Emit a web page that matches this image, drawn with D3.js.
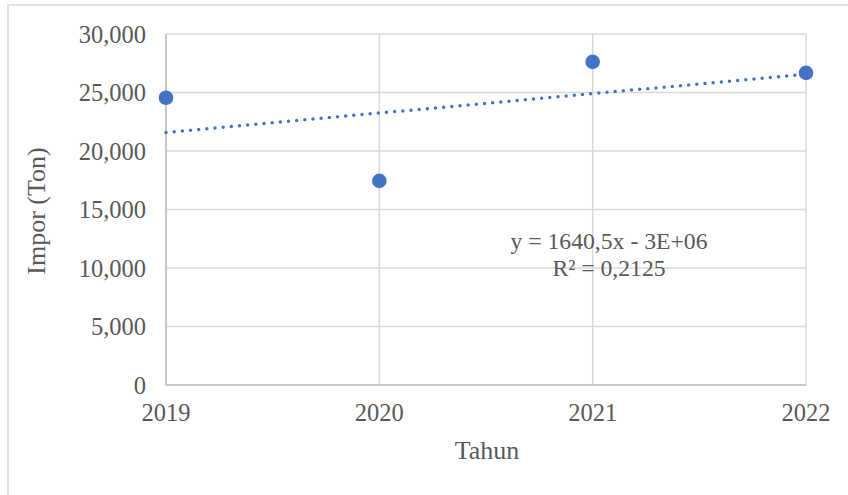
<!DOCTYPE html>
<html><head><meta charset="utf-8">
<script src="https://cdn.jsdelivr.net/npm/d3@7"></script>
<style>body{margin:0;background:#fff}svg{display:block}text{font-family:"Liberation Serif","Times New Roman",serif;fill:#595959}</style>
</head><body>
<svg id="c" width="848" height="495"></svg>
<script>
const years = [2019, 2020, 2021, 2022];
const impor = [24550, 17450, 27620, 26680];
const yTicks = [0, 5000, 10000, 15000, 20000, 25000, 30000];
const xTicks = [2019, 2020, 2021, 2022];
const eqLine1 = "y = 1640,5x - 3E+06";
const eqLine2 = "R² = 0,2125";

const svg = d3.select("#c");
svg.append("rect").attr("x",8).attr("y",5).attr("width",900).attr("height",600)
  .attr("fill","#fff").attr("stroke","#d9d9d9").attr("stroke-width",1.5);

const x = d3.scaleLinear().domain([2019,2022]).range([166,806]);
const y = d3.scaleLinear().domain([0,30000]).range([385,34]);

// gridlines
svg.append("g").selectAll("line").data(yTicks).join("line")
  .attr("x1",166).attr("x2",806).attr("y1",d=>y(d)).attr("y2",d=>y(d))
  .attr("stroke","#d9d9d9").attr("stroke-width",1.5);
svg.append("g").selectAll("line").data(xTicks).join("line")
  .attr("x1",d=>x(d)).attr("x2",d=>x(d)).attr("y1",y(0)).attr("y2",y(30000))
  .attr("stroke","#d9d9d9").attr("stroke-width",1.5);
// axes lines
svg.append("line").attr("x1",166).attr("x2",806).attr("y1",y(0)).attr("y2",y(0)).attr("stroke","#bfbfbf").attr("stroke-width",1.5);
svg.append("line").attr("x1",166).attr("x2",166).attr("y1",y(0)).attr("y2",y(30000)).attr("stroke","#bfbfbf").attr("stroke-width",1.5);

// tick labels
const fmt = d3.format(",");
svg.append("g").selectAll("text").data(yTicks).join("text")
  .attr("x",146).attr("y",d=>y(d)).attr("dy","0.35em").attr("text-anchor","end")
  .attr("font-size",24.5).text(d=>fmt(d));
svg.append("g").selectAll("text").data(xTicks).join("text")
  .attr("x",d=>x(d)).attr("y",421).attr("text-anchor","middle")
  .attr("font-size",24.5).text(d=>String(d));

// titles
svg.append("text").attr("transform","translate(45,211) rotate(-90)").attr("text-anchor","middle")
  .attr("font-size",26).text("Impor (Ton)");
svg.append("text").attr("x",487).attr("y",459).attr("text-anchor","middle")
  .attr("font-size",26).text("Tahun");

// linear regression trendline
const mx = d3.mean(years), my = d3.mean(impor);
const slope = d3.sum(years.map((v,i)=>(v-mx)*(impor[i]-my))) / d3.sum(years.map(v=>(v-mx)**2));
const icpt = my - slope*mx;
svg.append("line")
  .attr("x1",x(2019)).attr("y1",y(icpt+slope*2019))
  .attr("x2",x(2022)).attr("y2",y(icpt+slope*2022))
  .attr("stroke","#4472C4").attr("stroke-width",3.5).attr("stroke-linecap","round")
  .attr("stroke-dasharray","0,8.2");

// points
svg.append("g").selectAll("circle").data(years).join("circle")
  .attr("cx",d=>x(d)).attr("cy",(d,i)=>y(impor[i])).attr("r",7.3).attr("fill","#4472C4");

// equation
svg.append("text").attr("x",609).attr("y",249).attr("text-anchor","middle").attr("font-size",23.7).text(eqLine1);
svg.append("text").attr("x",609).attr("y",276).attr("text-anchor","middle").attr("font-size",23.7).text(eqLine2);
</script>
</body></html>
